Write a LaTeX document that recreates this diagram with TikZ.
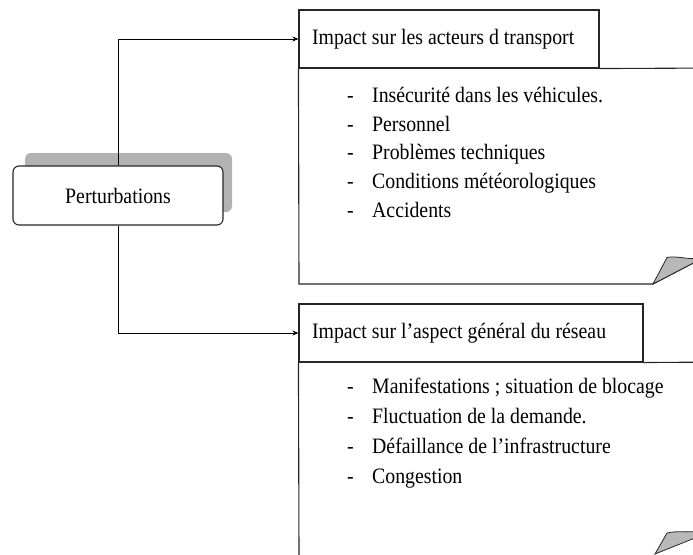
\documentclass[tikz,border=0pt]{standalone}
\usepackage{fontspec}
\setmainfont{Liberation Serif}[FakeStretch=0.9]
\usetikzlibrary{arrows.meta}
\tikzset{
  ln/.style={draw=black!85, line width=1.1pt},
  header/.style={ln, rectangle, fill=white, minimum height=58pt, inner xsep=13pt, inner ysep=0pt, font=\fontsize{22}{26}\selectfont},
  listtxt/.style={inner sep=0pt, align=left, anchor=north west},
  flap/.style={ln, fill=black!28, line width=0.8pt},
  conn/.style={draw=black, line width=1pt, -{Stealth[length=6pt,width=5pt]}}
}
\newcommand{\itm}[1]{\makebox[25pt][l]{-}#1}
\begin{document}
\begin{tikzpicture}[x=1pt,y=-1pt]
\useasboundingbox (0,0) rectangle (693,554);
\clip (0,0) rectangle (693,554);
% shadow and Perturbations box
\fill[black!30, rounded corners=6pt] (25,153) rectangle (232,212);
\node[ln, rounded corners=6pt, fill=white, minimum width=210pt, minimum height=59pt, font=\fontsize{22}{26}\selectfont] (p) at (118,195.5) {Perturbations};
% headers
\node[header] (h1) at (449,39) {\raisebox{4pt}{\makebox[274pt][l]{Impact sur les acteurs d transport}}};
\node[header] (h2) at (471,333) {\raisebox{4pt}{\makebox[318pt][l]{Impact sur l'aspect général du réseau}}};
% body 1
\draw[ln] (h1.south east) -- (720,68);
\draw[ln] (h1.south west) -- (299,284) -- (653,284) -- (720,249);
\filldraw[flap] (653,284) -- (667,257.5) .. controls (677,255.5) and (685,259.5) .. (700,258.5) -- (700,259.5) -- cycle;
% body 2
\draw[ln] (h2.south east) -- (720,362);
\draw[ln] (h2.south west) -- (299,556) -- (655,556);
\filldraw[flap] (655,554) -- (667,533) .. controls (677,530.5) and (685,533) .. (700,531) -- (700,536) -- cycle;
% lists
\node[listtxt, font=\fontsize{22}{28.5}\selectfont] (l1) at (347,87.5) {\itm{Insécurité dans les véhicules.}\\\itm{Personnel}\\\itm{Problèmes techniques}\\\itm{Conditions météorologiques}\\\itm{Accidents}};
\node[listtxt, font=\fontsize{22}{30}\selectfont] (l2) at (347,377.5) {\itm{Manifestations ; situation de blocage}\\\itm{Fluctuation de la demande.}\\\itm{Défaillance de l'infrastructure}\\\itm{Congestion}};
% connectors
\draw[conn] (p.north) |- (h1.west);
\draw[conn] (p.south) |- (h2.west);
\end{tikzpicture}
\end{document}
